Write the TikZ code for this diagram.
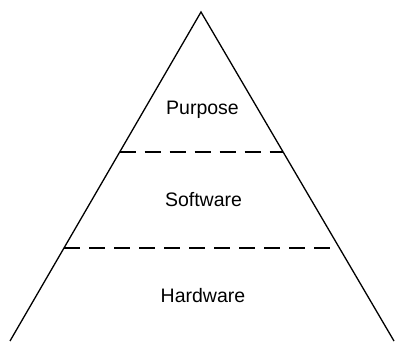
\documentclass[tikz,border=0pt]{standalone}
\usepackage{fontspec}
\setmainfont{Liberation Sans}
\usetikzlibrary{calc}

\begin{document}
\begin{tikzpicture}[x=1pt,y=-1pt]
	\tikzset{side/.style={black,line width=1.3pt},
		level/.style={black,line width=1.3pt,dash pattern=on 16pt off 9pt},
		layer/.style={font=\fontsize{19.5}{23}\selectfont}}
	
	% Fix the page size
	\useasboundingbox (0,0) rectangle (397,342);
	
	% Corners of the pyramid
	\coordinate (apex) at (201,12);
	\coordinate (left) at (10,341);
	\coordinate (right) at (394,341);
	
	% Sides
	\draw[side] (left) -- (apex) -- (right);
	
	% Dashed borders between layers
	\coordinate (upL) at ($(apex)!0.4255!(left)$);
	\coordinate (upR) at ($(apex)!0.4255!(right)$);
	\coordinate (lowL) at ($(apex)!0.717!(left)$);
	\coordinate (lowR) at ($(apex)!0.717!(right)$);
	\draw[level] (upL) -- (upR);
	\draw[level] (lowL) -- (lowR);
	
	% Layer labels
	\node[layer] (purpose) at (202.5,110) {Purpose};
	\node[layer] (software) at (203.5,200) {Software};
	\node[layer] (hardware) at (203,296) {Hardware};
\end{tikzpicture}
\end{document}
